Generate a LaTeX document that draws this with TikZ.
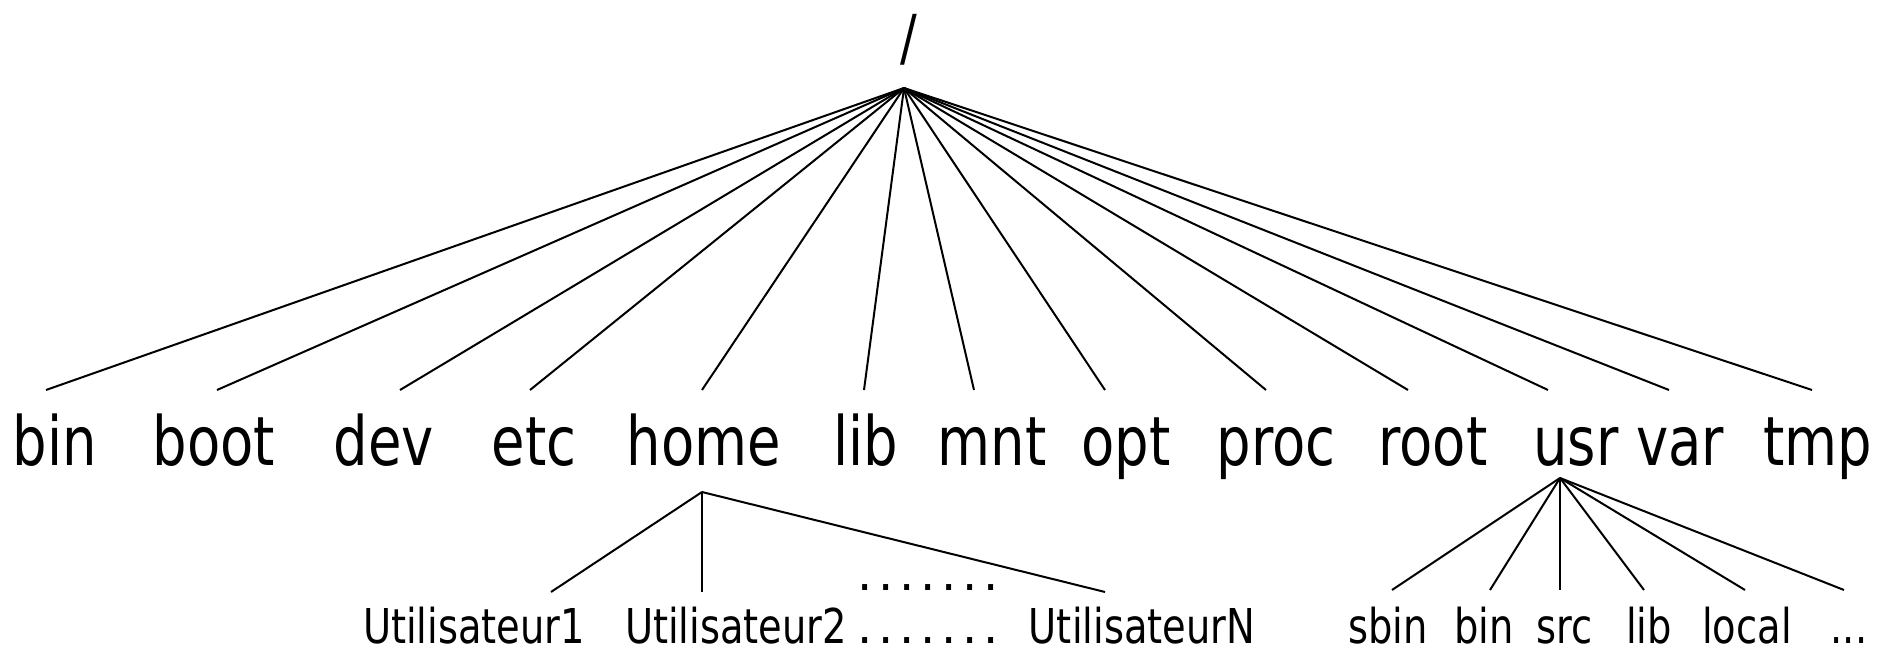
\documentclass[tikz,border=0pt]{standalone}
\usepackage{fontspec}
\setmainfont{DejaVu Sans}[FakeStretch=0.8]
\newfontfamily\dotsfont{DejaVu Sans}[LetterSpace=12]
\tikzset{
  big/.style={font=\fontsize{34pt}{36pt}\selectfont, anchor=base, inner sep=0pt},
  small/.style={font=\fontsize{24pt}{26pt}\selectfont, anchor=base, inner sep=0pt},
  link/.style={line width=1pt},
}
\begin{document}
\begin{tikzpicture}[x=0.5pt,y=-0.5pt]
\useasboundingbox (0,0) rectangle (1881,652);
% root
\node[big, font=\fontsize{31pt}{33pt}\selectfont] (root) at (909,60) {/};
\coordinate (r) at (904,88);
% first level labels
\foreach \n/\x in {bin/55,boot/214,dev/384,etc/534,home/704,lib/866,mnt/992,opt/1126,proc/1276,root/1433,usr/1576,var/1680,tmp/1818}
  \node[big] (\n) at (\x,466) {\n};
% line ends
\foreach \n/\x in {bin/46,boot/217,dev/400,etc/530,home/702,lib/864,mnt/974,opt/1105,proc/1266,root/1408,usr/1548,var/1669,tmp/1812}{
  \coordinate (e\n) at (\x,390);
  \draw[link] (r) -- (e\n);
}
% home subtree
\coordinate (h) at (702,492);
\coordinate (eu1) at (551,592);
\coordinate (eu2) at (702,592);
\coordinate (euN) at (1105,592);
\draw[link] (h) -- (eu1);
\draw[link] (h) -- (eu2);
\draw[link] (h) -- (euN);
\node[small] (u1) at (474,643) {Utilisateur1};
\node[small] (u2) at (736,643) {Utilisateur2};
\node[small] (ud) at (928,643) {\dotsfont.......};
\node[small] (udt) at (928,590) {\dotsfont.......};
\node[small] (uN) at (1142,643) {UtilisateurN};
% usr subtree
\coordinate (u) at (1560,478);
\foreach \n/\x in {sbin/1392,bin/1490,src/1560,lib/1644,local/1745,more/1844}{
  \coordinate (f\n) at (\x,590);
  \draw[link] (u) -- (f\n);
}
\node[small] (sbin) at (1388,643) {sbin};
\node[small] (ubin) at (1484,643) {bin};
\node[small] (src) at (1565,643) {src};
\node[small] (ulib) at (1649,643) {lib};
\node[small] (local) at (1747,643) {local};
\node[small] (more) at (1849,643) {...};
\end{tikzpicture}
\end{document}
